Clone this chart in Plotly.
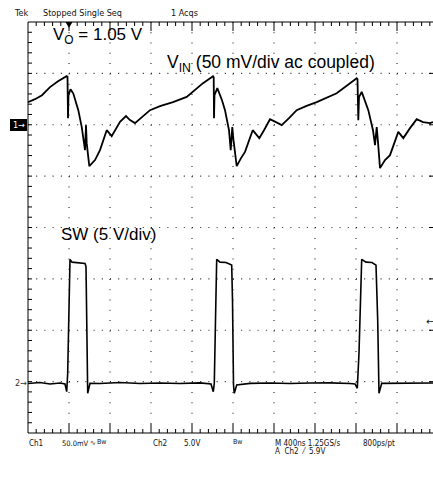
import plotly.graph_objects as go

# ---------------- data ----------------
# Horizontal: 400 ns/div, trigger (t = 0) one division from the left edge
# Ch1: V_IN, 50 mV/div, ac coupled, ground marker 6 div from bottom
vin_t_ns = [-400.0, -331.7, -263.4, -185.4, -107.3, -22.4, -14.6, -9.8, -4.9, 14.6,
            42.0, 90.7, 123.9, 156.1, 165.9, 172.7, 198.0, 253.7, 302.4, 367.8,
            416.6, 497.6, 556.1, 595.1, 643.9, 712.2, 790.2, 887.8, 1014.6, 1148.3,
            1229.3, 1307.3, 1404.9, 1411.7, 1414.6, 1419.5, 1446.8, 1492.7, 1521.9, 1561.0,
            1577.6, 1593.2, 1604.9, 1636.1, 1678.0, 1717.1, 1792.2, 1856.6, 1902.4, 1960.9,
            2019.5, 2075.1, 2146.3, 2221.4, 2312.2, 2416.6, 2611.7, 2702.4, 2806.8, 2814.6,
            2822.4, 2829.3, 2855.6, 2920.0, 2965.8, 2985.4, 3001.9, 3014.6, 3034.1, 3082.9,
            3131.7, 3212.7, 3261.5, 3326.8, 3392.2, 3453.6, 3521.9, 3551.2]
vin_mv = [22.0, 24.9, 28.8, 36.6, 42.4, 47.3, 46.8, 6.4, 28.8, 34.6,
          30.4, 14.2, -2.0, -24.7, -0.4, -17.9, -40.3, -34.4, -24.7, -5.3,
          -11.1, 2.8, 8.4, 4.5, 1.6, 7.4, 14.2, 18.1, 22.0, 27.1,
          33.7, 40.5, 47.3, 46.3, 6.4, 28.8, 35.6, 23.9, 14.2, -5.3,
          -24.7, -2.3, -15.0, -40.3, -32.5, -26.4, -5.3, -13.0, -5.3, 5.4,
          2.5, -0.4, 6.4, 14.2, 18.1, 22.0, 30.7, 37.5, 45.3, 44.3,
          4.5, 26.8, 32.0, 14.2, -5.3, -19.8, -2.3, -16.9, -42.2, -34.4,
          -29.6, -6.9, -13.0, -3.3, 5.4, 2.5, 1.6, 2.5]

# Ch2: SW node, 5 V/div, ground marker 1 div from bottom
sw_t_ns = [-400.0, -282.9, -185.4, -87.8, -39.0, -22.4, -12.7, 0.0, 9.8, 29.3,
           87.8, 156.1, 165.9, 172.7, 182.4, 204.9, 302.4, 497.6, 692.7, 887.8,
           1082.9, 1278.0, 1385.4, 1407.8, 1417.6, 1429.3, 1441.0, 1473.2, 1531.7, 1587.3,
           1595.1, 1604.9, 1612.7, 1636.1, 1765.9, 1960.9, 2156.0, 2351.2, 2546.3, 2741.4,
           2790.2, 2812.7, 2829.3, 2855.6, 2897.6, 2956.1, 2995.1, 3011.7, 3024.4, 3050.7,
           3180.5, 3326.8, 3473.2, 3551.2]
sw_v = [-0.18, -0.09, -0.23, -0.14, -0.23, -0.98, 0.84, 7.29, 11.90, 11.63,
        11.59, 11.49, 11.18, 2.78, -1.14, -0.17, -0.18, -0.09, -0.18, -0.14,
        -0.18, -0.12, -0.23, -0.98, -0.14, 5.99, 11.90, 11.63, 11.59, 11.34,
        7.94, -0.33, -1.14, -0.33, -0.17, -0.14, -0.18, -0.14, -0.12, -0.18,
        -0.23, -0.65, 2.78, 11.90, 11.63, 11.59, 11.34, 5.99, -1.14, -0.17,
        -0.18, -0.14, -0.18, -0.14]

x_range_ns = [-400.0, 3551.2]
ch1_range_mv = [-300, 100]
ch2_range_v = [-5, 35]

# ---------------- geometry helpers ----------------
W, H = 433, 495
L, T, R, B = 28, 22, 433, 433
DX = 41.0          # px per horizontal division
DY = (B - T) / 8   # px per vertical division


def px(x):
    return (x - L) / (R - L)


def py(y):
    return (B - y) / (B - T)


shapes = []


def seg(x0, y0, x1, y1, color="black", width=1, dash=None):
    line = dict(color=color, width=width)
    if dash:
        line["dash"] = dash
    shapes.append(dict(type="line", xref="paper", yref="paper",
                       x0=px(x0), y0=py(y0), x1=px(x1), y1=py(y1), line=line))


# dotted graticule
for k in range(1, 10):
    x = L + k * DX
    if x < R:
        seg(x, T, x, B, color="#222", width=1.1, dash=f"1px,{DY / 5 - 1:.2f}px")
for k in range(1, 8):
    y = T + k * DY
    seg(L, y, R, y, color="#222", width=1.1, dash=f"1px,{DX / 5 - 1:.2f}px")

# border (right edge lies outside the crop)
seg(L, T, R, T)
seg(L, T, L, B)
seg(L, B, R, B)

# border ticks
k = 0
while L + k * DX / 5 < R:
    x = L + k * DX / 5
    ln = 9 if k % 5 == 0 else 4
    if k > 0:
        seg(x, T, x, T + ln)
        seg(x, B, x, B - ln)
    k += 1
for k in range(1, 40):
    y = T + k * DY / 5
    seg(L, y, L + 4, y)
for k in range(1, 8):
    y = T + k * DY
    seg(R - 4, y, R, y)

# channel 1 marker box
shapes.append(dict(type="rect", xref="paper", yref="paper",
                   x0=px(10), y0=py(119), x1=px(27), y1=py(131),
                   fillcolor="black", line=dict(width=0)))

# trigger position marker (small down-pointing triangle on the top border)
shapes.append(dict(type="path", xref="paper", yref="paper",
                   path=f"M {px(65.5)},{py(22)} L {px(72.5)},{py(22)} L {px(69)},{py(28)} Z",
                   fillcolor="black", line=dict(width=0)))

annotations = []
NARROW = "Liberation Sans Narrow, DejaVu Sans Condensed, Arial Narrow, sans-serif"
SANS = "Liberation Sans, Arial, sans-serif"


def ann(text, x, y, size=9, family=NARROW, color="#111", xanchor="left"):
    annotations.append(dict(text=text, x=px(x), y=py(y), xref="paper", yref="paper",
                            showarrow=False, xanchor=xanchor, yanchor="middle",
                            font=dict(size=size, family=family, color=color)))


# status line
ann("Tek", 12, 13)
ann("Stopped Single Seq", 41, 13)
ann("1 Acqs", 169, 13)

# big labels
ann("V<sub>O</sub> = 1.05 V", 51, 36, size=17, family=SANS, color="black")
ann("V<sub>IN</sub> (50 mV/div ac coupled)", 165, 64, size=17.5, family=SANS, color="black")
ann("SW (5 V/div)", 59, 235, size=17, family=SANS, color="black")

# channel markers
ann("1→", 18.5, 125, size=9, family="DejaVu Sans Condensed", color="white", xanchor="center")
ann("2→", 21, 383, size=9, family="DejaVu Sans Condensed", color="#333", xanchor="center")
ann("←", 430, 321, size=10, family="DejaVu Sans", color="#111", xanchor="center")

# bottom readout
ann("Ch1", 27, 443, size=8)
ann("50.0mV", 60, 443, size=7.5)
ann("∿", 88, 443, size=7, family="DejaVu Sans")
ann("Bw", 95, 442, size=7)
ann("Ch2", 151, 443, size=8)
ann("5.0V", 182, 443, size=8)
ann("Bw", 231, 442, size=7)
ann("M 400ns 1.25GS/s", 273, 443, size=8)
ann("800ps/pt", 361, 443, size=8)
ann("A  Ch2  ⁄  5.9V", 273, 451, size=8)

fig = go.Figure()
fig.add_trace(go.Scatter(x=vin_t_ns, y=vin_mv, mode="lines", yaxis="y",
                         line=dict(color="black", width=1.8), hoverinfo="skip"))
fig.add_trace(go.Scatter(x=sw_t_ns, y=sw_v, mode="lines", yaxis="y2",
                         line=dict(color="black", width=1.6), hoverinfo="skip"))

hidden = dict(visible=False, showgrid=False, zeroline=False, fixedrange=True)
fig.update_layout(
    width=W, height=H,
    margin=dict(l=L, r=W - R, t=T, b=H - B, pad=0),
    paper_bgcolor="white", plot_bgcolor="white",
    showlegend=False,
    xaxis=dict(range=x_range_ns, **hidden),
    yaxis=dict(range=ch1_range_mv, **hidden),
    yaxis2=dict(range=ch2_range_v, overlaying="y", **hidden),
    shapes=shapes,
    annotations=annotations,
)

fig.write_html("out.html", config={"displayModeBar": False},
               post_script="document.body.style.margin='0';")
